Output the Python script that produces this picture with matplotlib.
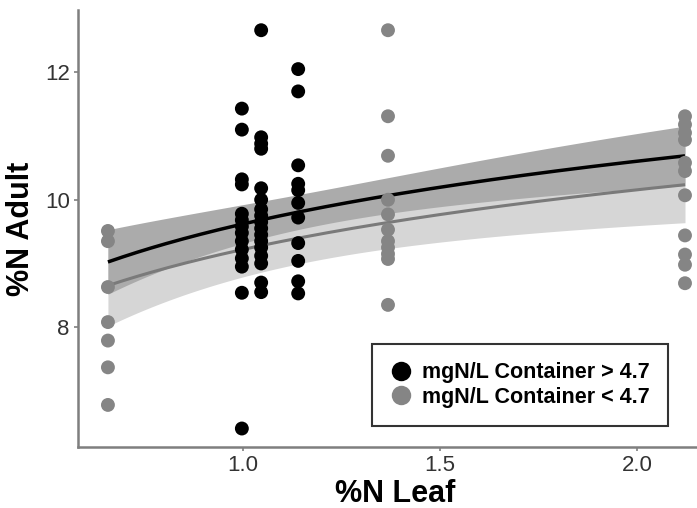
import numpy as np
import matplotlib
matplotlib.use("Agg")
import matplotlib.pyplot as plt
from matplotlib.lines import Line2D

plt.rcParams['font.family'] = ['Liberation Sans', 'DejaVu Sans']

# ---- data ----
black_x = [0.997] * 14 + [1.046] * 17 + [1.140] * 11
black_y = [11.43, 11.10, 10.32, 10.24, 9.78, 9.68, 9.58, 9.48, 9.35, 9.22, 9.08, 8.95, 8.54, 6.41,
           12.66, 10.98, 10.88, 10.80, 10.18, 10.00, 9.85, 9.75, 9.65, 9.55, 9.45, 9.35, 9.25, 9.12, 9.00, 8.70, 8.55,
           12.05, 11.70, 10.54, 10.25, 10.15, 9.95, 9.72, 9.32, 9.04, 8.72, 8.53]

gray_x = [0.657] * 7 + [1.368] * 11 + [2.122] * 11
gray_y = [9.51, 9.35, 8.63, 8.08, 7.79, 7.37, 6.78,
          12.66, 11.31, 10.69, 10.00, 9.77, 9.53, 9.35, 9.25, 9.15, 9.07, 8.35,
          11.31, 11.18, 11.05, 10.94, 10.58, 10.45, 10.07, 9.44, 9.14, 8.98, 8.69]

# fitted curves y = a + b*ln(x); band half-width sqrt(c0^2 + c1^2 (ln x - m)^2)
black_fit = [9.62, 1.42]
gray_fit = [9.22, 1.35]
black_band = [0.27, 0.69, 0.20]
gray_band = [0.40, 0.80, 0.20]
fit_range = [0.657, 2.122]

x_ticks = [1.0, 1.5, 2.0]
x_ticklabels = ["1.0", "1.5", "2.0"]
y_ticks = [8, 10, 12]
y_ticklabels = ["8", "10", "12"]
legend_labels = ["mgN/L Container > 4.7", "mgN/L Container < 4.7"]

# ---- figure ----
fig = plt.figure(figsize=(6.97, 5.08), dpi=100)
ax = fig.add_axes([0.1119, 0.1201, 0.9110, 0.8593])

xs = np.linspace(fit_range[0], fit_range[1], 200)
L = np.log(xs)

def curve(fit):
    return fit[0] + fit[1] * L

def band(p):
    return np.sqrt(p[0] ** 2 + p[1] ** 2 * (L - p[2]) ** 2)

gy = curve(gray_fit)
by = curve(black_fit)
ax.fill_between(xs, gy - band(gray_band), gy + band(gray_band), color='#d6d6d6', lw=0, zorder=1)
ax.fill_between(xs, by - band(black_band), by + band(black_band), color='#ababab', lw=0, zorder=2)
ax.plot(xs, gy, color='#7a7a7a', lw=2.2, zorder=3, solid_capstyle='butt')
ax.plot(xs, by, color='black', lw=2.5, zorder=3, solid_capstyle='butt')

ax.scatter(gray_x, gray_y, s=100, color='#858585', edgecolors='none', zorder=4)
ax.scatter(black_x, black_y, s=100, color='black', edgecolors='none', zorder=5)

ax.set_xlim(0.581, 2.193)
ax.set_ylim(6.12, 12.97)
ax.set_xticks(x_ticks)
ax.set_xticklabels(x_ticklabels)
ax.set_yticks(y_ticks)
ax.set_yticklabels(y_ticklabels)
ax.tick_params(axis='both', colors='#7f7f7f', labelcolor='#333333', labelsize=16,
               length=3, width=1.2, pad=3)

for s in ['top', 'right']:
    ax.spines[s].set_visible(False)
for s in ['left', 'bottom']:
    ax.spines[s].set_color('#7f7f7f')
    ax.spines[s].set_linewidth(1.8)

ax.set_xlabel("%N Leaf", fontsize=22, fontweight='bold', labelpad=2)
ax.set_ylabel("%N Adult", fontsize=22, fontweight='bold', labelpad=6)

handles = [Line2D([], [], marker='o', ls='', color='black', markersize=14, markeredgewidth=0),
           Line2D([], [], marker='o', ls='', color='#858585', markersize=14, markeredgewidth=0)]
leg = fig.legend(handles, legend_labels, loc='center', bbox_to_anchor=(0.746, 0.242),
                 prop={'weight': 'bold', 'size': 15.5}, frameon=True, fancybox=False,
                 edgecolor='black', borderpad=0.85, handlelength=1.0, handletextpad=0.5,
                 labelspacing=0.15, borderaxespad=0)
leg.get_frame().set_linewidth(1.5)

fig.savefig("out.png", dpi=100)
